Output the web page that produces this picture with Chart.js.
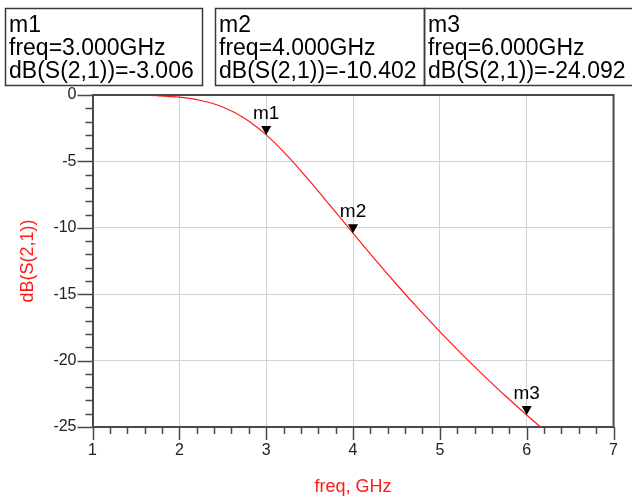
<!DOCTYPE html>
<html>
<head>
<meta charset="utf-8">
<script src="https://cdn.jsdelivr.net/npm/chart.js@4.4.0/dist/chart.umd.min.js"></script>
<style>
  body { margin: 0; background: #fff; }
  #wrap { width: 632px; height: 501px; }
</style>
</head>
<body>
<div id="wrap"><canvas id="s21Chart" width="632" height="501"></canvas></div>
<script>
// Values
const freqGHz = [1, 1.25, 1.5, 1.75, 2, 2.25, 2.5, 2.75, 3, 3.25, 3.5, 3.75, 4, 4.25, 4.5, 4.75, 5, 5.25, 5.5, 5.75, 6, 6.25];
const dbS21 = [0, -0.004, -0.017, -0.058, -0.166, -0.414, -0.908, -1.756, -3.006, -4.62, -6.47, -8.43, -10.402, -12.36, -14.25, -16.07, -17.82, -19.49, -21.09, -22.63, -24.092, -25.51];

// Markers
const markerNames = ['m1', 'm2', 'm3'];
const markerFreq = [3, 4, 6];
const markerDb = [-3.006, -10.402, -24.092];

const xTicks = [1, 2, 3, 4, 5, 6, 7];
const yTicks = [-25, -20, -15, -10, -5, 0];

const FONT = 'Arial, "Liberation Sans", sans-serif';
const RED = '#ff1a1a';
const AXIS = '#4a4a4a';

// tick marks, frame, marker triangles and marker readout boxes
const adsPlugin = {
  id: 'adsDecor',
  afterDatasetsDraw(chart) {
    const ctx = chart.ctx;
    const area = chart.chartArea;
    const xs = chart.scales.x;
    const ys = chart.scales.y;
    ctx.save();

    // frame (top and right)
    ctx.strokeStyle = AXIS;
    ctx.lineWidth = 2;
    ctx.beginPath();
    ctx.moveTo(area.left, area.top);
    ctx.lineTo(area.right, area.top);
    ctx.lineTo(area.right, area.bottom);
    ctx.stroke();

    // tick marks
    ctx.lineWidth = 1.5;
    ctx.beginPath();
    for (let v = xs.min; v <= xs.max + 1e-6; v += 0.2) {
      const px = Math.round(xs.getPixelForValue(v)) + 0.5;
      const major = Math.abs(v - Math.round(v)) < 1e-6;
      ctx.moveTo(px, area.bottom);
      ctx.lineTo(px, area.bottom + (major ? 13 : 7));
    }
    for (let v = ys.min; v <= ys.max + 1e-6; v += 1) {
      const py = Math.round(ys.getPixelForValue(v)) + 0.5;
      const major = Math.round(v) % 5 === 0;
      ctx.moveTo(area.left, py);
      ctx.lineTo(area.left - (major ? 15 : 7), py);
    }
    ctx.stroke();

    // marker triangles + names
    ctx.fillStyle = '#000';
    ctx.textAlign = 'center';
    ctx.textBaseline = 'alphabetic';
    ctx.font = '19px ' + FONT;
    markerNames.forEach((name, i) => {
      const px = xs.getPixelForValue(markerFreq[i]);
      const py = ys.getPixelForValue(markerDb[i]);
      ctx.beginPath();
      ctx.moveTo(px, py);
      ctx.lineTo(px - 5, py - 9);
      ctx.lineTo(px + 5, py - 9);
      ctx.closePath();
      ctx.fill();
      ctx.fillText(name, px, py - 16);
    });

    // readout boxes
    const boxes = [[5, 202], [215, 424], [424, 640]];
    ctx.strokeStyle = '#3a3a3a';
    ctx.lineWidth = 1.5;
    ctx.textAlign = 'left';
    ctx.font = '23px ' + FONT;
    markerNames.forEach((name, i) => {
      const [x0, x1] = boxes[i];
      ctx.strokeRect(x0 + 0.5, 8.5, x1 - x0, 77);
      const lines = [
        name,
        'freq=' + markerFreq[i].toFixed(3) + 'GHz',
        'dB(S(2,1))=' + markerDb[i].toFixed(3)
      ];
      lines.forEach((t, k) => ctx.fillText(t, x0 + 4, 31.5 + k * 23));
    });
    ctx.restore();
  }
};

new Chart(document.getElementById('s21Chart'), {
  type: 'line',
  data: {
    datasets: [{
      label: 'dB(S(2,1))',
      data: freqGHz.map((f, i) => ({ x: f, y: dbS21[i] })),
      borderColor: RED,
      borderWidth: 1.2,
      pointRadius: 0,
      cubicInterpolationMode: 'monotone',
      fill: false,
      clip: 0
    }]
  },
  options: {
    responsive: false,
    animation: false,
    layout: { padding: { top: 95, right: 15, left: 0, bottom: 0 } },
    plugins: { legend: { display: false }, tooltip: { enabled: false } },
    scales: {
      x: {
        type: 'linear',
        min: 1,
        max: 7,
        afterFit: (s) => { s.height = 74; },
        afterBuildTicks: (s) => { s.ticks = xTicks.map(v => ({ value: v })); },
        ticks: { color: '#222', padding: 14, font: { family: FONT, size: 16 } },
        grid: { color: '#d2d2d2', lineWidth: 1, drawTicks: false },
        border: { color: AXIS, width: 2 },
        title: {
          display: true,
          text: 'freq, GHz',
          color: RED,
          font: { family: FONT, size: 18 },
          padding: { top: 0, bottom: 3 }
        }
      },
      y: {
        type: 'linear',
        min: -25,
        max: 0,
        afterFit: (s) => { s.width = 92.5; },
        afterBuildTicks: (s) => { s.ticks = yTicks.map(v => ({ value: v })); },
        ticks: { color: '#222', padding: 16, font: { family: FONT, size: 16 } },
        grid: { color: '#d2d2d2', lineWidth: 1, drawTicks: false },
        border: { color: AXIS, width: 2 },
        title: {
          display: true,
          text: 'dB(S(2,1))',
          color: RED,
          font: { family: FONT, size: 18 },
          padding: { top: 17, bottom: 0 }
        }
      }
    }
  },
  plugins: [adsPlugin]
});
</script>
</body>
</html>
